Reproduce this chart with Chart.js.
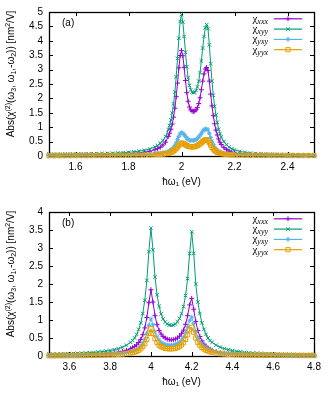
<!DOCTYPE html>
<html><head><meta charset="utf-8">
<script src="https://cdn.jsdelivr.net/npm/chart.js@4/dist/chart.umd.min.js"></script>
<style>html,body{margin:0;padding:0;background:#fff;}canvas{display:block;}</style>
</head><body>
<canvas id="ca" width="332" height="200"></canvas>
<canvas id="cb" width="332" height="199"></canvas>
<script>
const NAMES = ['xxx','xyy','yxy','yyx'];
const COLORS = ['#9400d3','#009e73','#56b4e9','#e69f00'];
const STYLES = ['cross','crossRot','star','rect'];
const RADII = [2.5,2.5,2.3,3];

const XT_A = [1.6,1.8,2,2.2,2.4];
const YT_A = [0,0.5,1,1.5,2,2.5,3,3.5,4,4.5,5];
const XT_B = [3.6,3.8,4,4.2,4.4,4.6,4.8];
const YT_B = [0,0.5,1,1.5,2,2.5,3,3.5,4];

const X_A = [1.50,1.52,1.54,1.56,1.58,1.60,1.62,1.64,1.66,1.68,1.70,1.72,1.74,1.76,1.78,1.80,1.82,1.84,1.86,1.88,
 1.90,1.91,1.92,1.93,1.94,
 1.95,1.955,1.96,1.965,1.97,1.975,1.98,1.985,1.99,1.995,
 2.00,2.005,2.01,2.015,2.02,2.025,2.03,2.035,2.04,2.045,
 2.05,2.055,2.06,2.065,2.07,2.075,2.08,2.085,2.09,2.095,
 2.10,2.105,2.11,2.115,2.12,2.125,2.13,2.135,2.14,2.145,
 2.15,2.16,2.17,2.18,2.19,2.20,
 2.22,2.24,2.26,2.28,2.30,2.32,2.34,2.36,2.38,2.40,2.42,2.44,2.46,2.48,2.50];
const XXX_A = [.03,.03,.031,.032,.033,.034,.035,.037,.039,.041,.044,.048,.053,.059,.067,.078,.09,.107,.13,.165,
 .22,.255,.305,.38,.48,
 .68,.79,.93,1.11,1.35,1.66,2.06,2.53,3.06,3.49,
 3.66,3.48,3.08,2.62,2.2,1.9,1.7,1.6,1.56,1.55,
 1.56,1.6,1.68,1.82,2.02,2.3,2.6,2.85,3.02,3.07,
 2.97,2.6,2.15,1.74,1.4,1.12,.9,.73,.59,.48,
 .4,.29,.22,.17,.13,.11,
 .085,.068,.055,.046,.04,.036,.033,.03,.028,.026,.025,.024,.023,.022,.021];
const XYY_A = [.065,.066,.067,.068,.07,.071,.073,.075,.078,.081,.085,.09,.096,.104,.114,.128,.146,.17,.2,.245,
 .32,.37,.44,.54,.68,
 .91,1.06,1.25,1.49,1.81,2.22,2.75,3.39,4.09,4.67,
 4.91,4.65,4.15,3.6,3.1,2.72,2.45,2.3,2.22,2.2,
 2.21,2.27,2.4,2.6,2.9,3.3,3.75,4.15,4.45,4.56,
 4.42,3.86,3.2,2.6,2.11,1.72,1.42,1.17,.93,.78,
 .66,.5,.39,.31,.25,.21,
 .16,.125,.1,.085,.075,.066,.06,.055,.051,.048,.046,.044,.042,.041,.04];
const YXY_A = [.02,.02,.021,.022,.023,.024,.025,.026,.027,.028,.03,.031,.033,.035,.037,.04,.043,.048,.055,.065,
 .08,.09,.1,.115,.135,
 .16,.18,.21,.25,.3,.37,.46,.57,.68,.77,
 .81,.79,.74,.68,.62,.58,.55,.54,.535,.54,
 .55,.57,.61,.66,.72,.79,.86,.91,.94,.94,
 .9,.78,.64,.51,.4,.31,.25,.2,.165,.14,
 .12,.095,.078,.066,.057,.05,
 .042,.037,.033,.03,.028,.026,.025,.024,.023,.022,.022,.021,.021,.02,.02];
const YYX_A = [.01,.01,.011,.011,.012,.012,.013,.013,.014,.015,.016,.017,.018,.02,.022,.024,.027,.03,.034,.04,
 .048,.054,.06,.068,.08,
 .095,.11,.125,.145,.175,.21,.26,.31,.37,.42,
 .45,.44,.42,.39,.36,.34,.33,.32,.32,.32,
 .325,.34,.36,.39,.42,.46,.5,.54,.56,.56,
 .53,.46,.38,.3,.24,.19,.155,.13,.11,.095,
 .083,.066,.055,.047,.041,.037,
 .031,.027,.024,.022,.02,.019,.018,.017,.017,.016,.016,.015,.015,.015,.015];

const X_B = [3.50,3.52,3.54,3.56,3.58,3.60,3.62,3.64,3.66,3.68,3.70,3.72,3.74,3.76,3.78,3.80,3.82,3.84,3.86,3.88,
 3.90,3.91,3.92,3.93,3.94,3.95,3.96,3.97,3.98,3.99,
 4.00,4.01,4.02,4.03,4.04,4.05,4.06,4.07,4.08,4.09,
 4.10,4.11,4.12,4.13,4.14,4.15,4.16,4.17,4.18,4.19,
 4.20,4.21,4.22,4.23,4.24,4.25,4.26,4.27,4.28,4.29,
 4.30,
 4.32,4.34,4.36,4.38,4.40,4.42,4.44,4.46,4.48,4.50,4.52,4.54,4.56,4.58,4.60,4.62,4.64,4.66,4.68,4.70,4.72,4.74,4.76,4.78,4.80];
const XXX_B = [.02,.021,.022,.023,.024,.026,.028,.03,.033,.036,.04,.044,.05,.057,.066,.077,.09,.107,.13,.16,
 .2,.23,.265,.31,.375,.46,.59,.78,1.07,1.48,
 1.84,1.5,1.12,.87,.71,.61,.54,.5,.47,.455,
 .45,.455,.47,.5,.55,.62,.72,.88,1.12,1.42,
 1.6,1.3,.96,.71,.54,.42,.33,.27,.22,.185,
 .16,
 .12,.095,.078,.065,.056,.049,.043,.039,.035,.032,.03,.028,.026,.025,.024,.023,.022,.021,.02,.02,.019,.019,.018,.018,.017];
const XYY_B = [.05,.052,.054,.057,.06,.063,.067,.072,.077,.083,.09,.098,.108,.12,.135,.153,.176,.205,.245,.3,
 .38,.43,.5,.6,.74,.92,1.18,1.55,2.1,2.9,
 3.55,2.95,2.2,1.7,1.38,1.17,1.03,.94,.89,.86,
 .85,.86,.89,.95,1.04,1.17,1.37,1.68,2.15,2.85,
 3.45,2.85,2.0,1.5,1.18,.92,.74,.6,.5,.43,
 .38,
 .3,.245,.205,.175,.15,.13,.115,.1,.09,.08,.073,.067,.062,.058,.054,.051,.048,.046,.044,.042,.041,.04,.039,.038,.037];
const YXY_B = [.01,.011,.012,.013,.014,.015,.016,.018,.02,.022,.024,.027,.031,.035,.04,.046,.054,.064,.077,.095,
 .12,.136,.157,.185,.225,.28,.36,.47,.63,.85,
 1.03,.87,.67,.53,.44,.38,.345,.32,.305,.3,
 .3,.305,.32,.345,.385,.44,.52,.64,.8,.98,
 1.08,.9,.68,.52,.41,.33,.27,.225,.19,.163,
 .142,
 .11,.088,.073,.062,.054,.047,.042,.038,.034,.031,.029,.027,.025,.024,.023,.022,.021,.02,.019,.018,.018,.017,.017,.016,.016];
const YYX_B = [.006,.006,.007,.007,.008,.009,.01,.011,.012,.013,.015,.017,.019,.022,.026,.03,.036,.043,.053,.066,
 .084,.096,.11,.13,.16,.2,.26,.34,.46,.63,
 .76,.63,.48,.37,.3,.26,.235,.215,.205,.2,
 .2,.205,.215,.235,.265,.31,.37,.46,.59,.73,
 .8,.66,.5,.38,.3,.24,.195,.163,.138,.118,
 .103,
 .08,.064,.053,.045,.039,.034,.03,.027,.025,.023,.021,.02,.019,.018,.017,.016,.015,.015,.014,.014,.013,.013,.012,.012,.012];

const FONT = '"Liberation Sans", Arial, sans-serif';
Chart.defaults.font.family = FONT;
Chart.defaults.font.size = 10;
Chart.defaults.color = '#000';

function richText(ctx, segs, cx, cy) {
  // segs: [text, size, dy, italic]
  let w = 0;
  segs.forEach(s => { ctx.font = (s[3]?'italic ':'') + s[1] + 'px ' + FONT; w += ctx.measureText(s[0]).width; });
  let x = cx - w/2;
  segs.forEach(s => { ctx.font = (s[3]?'italic ':'') + s[1] + 'px ' + FONT; ctx.fillText(s[0], x, cy + s[2]); x += ctx.measureText(s[0]).width; });
}

const framePlugin = {
  id: 'frame',
  beforeDatasetsDraw(chart, args, o) {
    const {ctx, chartArea: {left, right, top, bottom}, scales: {x, y}} = chart;
    ctx.save();
    ctx.strokeStyle = '#000'; ctx.lineWidth = 1;
    ctx.beginPath();
    const tl = 4;
    o.xt.forEach(v => { const px = Math.round(x.getPixelForValue(v)) + 0.5;
      ctx.moveTo(px, bottom); ctx.lineTo(px, bottom - tl); ctx.moveTo(px, top); ctx.lineTo(px, top + tl); });
    o.yt.forEach(v => { const py = Math.round(y.getPixelForValue(v)) + 0.5;
      ctx.moveTo(left, py); ctx.lineTo(left + tl, py); ctx.moveTo(right, py); ctx.lineTo(right - tl, py); });
    ctx.stroke();
    ctx.lineWidth = 1.3;
    ctx.strokeRect(Math.round(left) + 0.5, Math.round(top) + 0.5, Math.round(right - left), Math.round(bottom - top));
    ctx.restore();
  },
  afterDraw(chart, args, o) {
    const {ctx} = chart;
    ctx.save();
    ctx.fillStyle = '#000';
    ctx.textBaseline = 'alphabetic';
    ctx.textAlign = 'left';
    // panel tag
    ctx.font = '10px ' + FONT;
    ctx.fillText(o.tag, 62, 26);
    // y title (rotated)
    ctx.save();
    ctx.translate(14, 74);
    ctx.rotate(-Math.PI/2);
    richText(ctx, [
      ['Abs(\u03c7',10,0],['(2)',7,-4],['(\u03c9',10,0],['3',7,2],[', \u03c9',10,0],['1',7,2],
      [',-\u03c9',10,0],['2',7,2],[')) [nm',10,0],['2',7,-4],['/V]',10,0]
    ], 0, 0);
    ctx.restore();
    // legend
    chart.data.datasets.forEach((ds, i) => {
      const yy = o.ly + i * 10.3;
      ctx.font = 'italic 8px "Liberation Serif", serif';
      const sw = ctx.measureText(NAMES[i]).width;
      ctx.font = '11px "Liberation Serif", serif';
      const cw = ctx.measureText('\u03c7').width;
      const xe = 268;
      ctx.fillStyle = '#000';
      ctx.fillText('\u03c7', xe - sw - cw, yy + 3.5);
      ctx.font = 'italic 8px "Liberation Serif", serif';
      ctx.fillText(NAMES[i], xe - sw, yy + 5.5);
      ctx.strokeStyle = COLORS[i]; ctx.lineWidth = 1.2;
      ctx.beginPath(); ctx.moveTo(274, yy + 0.5); ctx.lineTo(302, yy + 0.5); ctx.stroke();
      ctx.fillStyle = 'rgba(0,0,0,0)';
      ctx.lineWidth = 1;
      ctx.beginPath();
      Chart.helpers.drawPoint(ctx, {pointStyle: STYLES[i], radius: RADII[i], rotation: 0, borderWidth: 1}, 288, yy + 0.5);
    });
    ctx.restore();
  }
};

function fmt(v) { return String(Math.round(v * 100) / 100); }

function makeChart(id, H, xs, series, xt, yt, xmin, xmax, ymax, tag) {
  const datasets = NAMES.map((n, i) => ({
    label: '\u03c7' + n,
    data: xs.map((x, k) => ({x: x, y: series[i][k]})),
    borderColor: COLORS[i],
    backgroundColor: COLORS[i],
    borderWidth: 1,
    pointStyle: STYLES[i],
    pointRadius: RADII[i],
    pointBorderWidth: 1,
    pointBorderColor: COLORS[i],
    pointBackgroundColor: 'rgba(0,0,0,0)',
    showLine: true,
    tension: 0,
    order: 4 - i,
    clip: false
  }));
  return new Chart(document.getElementById(id), {
    type: 'scatter',
    data: {datasets},
    plugins: [framePlugin],
    options: {
      responsive: false, animation: false, devicePixelRatio: 1, events: [],
      layout: {padding: {left: 0, right: 18, top: 10.5, bottom: 0}},
      plugins: {legend: {display: false}, tooltip: {enabled: false},
        frame: {xt: xt, yt: yt, tag: tag, ly: 18.3}},
      scales: {
        x: {type: 'linear', min: xmin, max: xmax,
          afterBuildTicks: s => { s.ticks = xt.map(v => ({value: v})); },
          afterFit: s => { s.height = H - 156; },
          grid: {display: false, drawTicks: false}, border: {display: false},
          ticks: {padding: 5, maxRotation: 0, autoSkip: false, callback: v => fmt(v)},
          title: {display: true, text: '\u0127\u03c9\u2081 (eV)', font: {size: 10}, padding: {top: 0, bottom: H - 6 - 182}}},
        y: {type: 'linear', min: 0, max: ymax,
          afterBuildTicks: s => { s.ticks = yt.map(v => ({value: v})); },
          afterFit: s => { s.width = 49; },
          grid: {display: false, drawTicks: false}, border: {display: false},
          ticks: {padding: 6, autoSkip: false, callback: v => fmt(v)}}
      }
    }
  });
}

makeChart('ca', 200, X_A, [XXX_A, XYY_A, YXY_A, YYX_A], XT_A, YT_A, 1.5, 2.5, 5, '(a)');
makeChart('cb', 199, X_B, [XXX_B, XYY_B, YXY_B, YYX_B], XT_B, YT_B, 3.5, 4.8, 4, '(b)');
</script>
</body></html>
